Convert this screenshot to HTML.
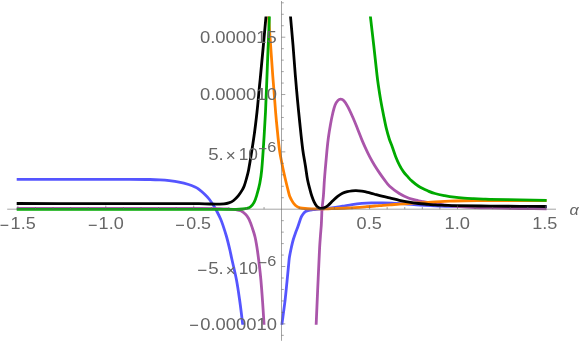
<!DOCTYPE html>
<html><head><meta charset="utf-8"><title>plot</title>
<style>html,body{margin:0;padding:0;background:#fff;}svg{display:block;}text{font-family:"Liberation Sans",sans-serif;fill:#666666;}</style></head><body>
<svg width="581" height="342" viewBox="0 0 581 342">
<rect width="581" height="342" fill="#ffffff"/>
<defs><clipPath id="c"><rect x="0" y="16.5" width="581" height="308.3"/></clipPath></defs>
<g clip-path="url(#c)" fill="none" stroke-width="2.8" stroke-linejoin="round">
<path d="M16.70 179.30 C31.13 179.30 45.57 179.30 60.00 179.30 C73.33 179.30 86.67 179.30 100.00 179.30 C110.00 179.30 120.00 179.26 130.00 179.30 C136.67 179.33 143.33 179.37 150.00 179.50 C153.33 179.57 156.67 179.69 160.00 179.90 C163.10 180.09 166.21 180.34 169.30 180.70 C172.54 181.08 175.80 181.47 179.00 182.10 C182.23 182.74 185.45 183.54 188.60 184.50 C190.79 185.17 192.92 186.06 195.00 187.00 C196.15 187.52 197.29 188.14 198.30 188.90 C200.50 190.54 202.65 192.31 204.65 194.20 C206.39 195.84 208.04 197.61 209.50 199.50 C211.26 201.79 212.78 204.28 214.30 206.75 C215.35 208.45 216.29 210.22 217.20 212.00 C218.39 214.31 219.57 216.62 220.60 219.00 C221.47 220.99 222.21 223.04 222.90 225.10 C224.17 228.87 225.42 232.67 226.50 236.50 C227.76 240.97 228.83 245.49 229.90 250.00 C230.53 252.65 231.01 255.34 231.60 258.00 C233.21 265.34 235.11 272.62 236.50 280.00 C237.87 287.29 238.87 294.65 239.90 302.00 C240.91 309.22 241.74 316.46 242.60 323.70 C242.97 326.80 243.27 329.90 243.60 333.00" stroke="#5555ff"/>
<path d="M281.00 333.00 C281.33 329.93 281.64 326.86 282.00 323.80 C282.24 321.76 282.53 319.73 282.80 317.70 C283.57 311.83 284.41 305.98 285.10 300.10 C285.78 294.28 286.32 288.44 286.90 282.60 C287.48 276.74 288.03 270.87 288.60 265.00 C288.83 262.67 289.00 260.32 289.30 258.00 C289.47 256.66 289.74 255.33 290.00 254.00 C290.44 251.73 290.89 249.46 291.40 247.20 C291.99 244.62 292.56 242.04 293.30 239.50 C294.01 237.04 294.89 234.62 295.75 232.20 C296.25 230.78 296.88 229.41 297.40 228.00 C297.89 226.68 298.33 225.33 298.80 224.00 C299.60 221.73 300.21 219.38 301.20 217.20 C301.81 215.84 302.67 214.56 303.60 213.40 C304.27 212.57 305.09 211.78 306.00 211.25 C306.86 210.75 307.91 210.53 308.90 210.30 C310.16 210.01 311.46 209.87 312.75 209.70 C314.00 209.54 315.25 209.40 316.50 209.30 C318.26 209.16 320.04 209.16 321.80 209.00 C325.20 208.69 328.61 208.35 332.00 207.90 C335.51 207.43 339.00 206.82 342.50 206.25 C345.70 205.72 348.89 205.07 352.10 204.60 C355.32 204.13 358.56 203.74 361.80 203.45 C364.99 203.17 368.20 203.00 371.40 202.90 C375.26 202.78 379.13 202.76 383.00 202.80 C386.00 202.83 389.00 202.95 392.00 203.10 C396.34 203.32 400.67 203.61 405.00 203.90 C410.00 204.24 415.00 204.70 420.00 205.00 C426.66 205.40 433.33 205.75 440.00 206.00 C445.00 206.19 450.00 206.25 455.00 206.30 C470.00 206.45 485.00 206.52 500.00 206.60 C515.53 206.68 531.07 206.73 546.60 206.80" stroke="#5555ff"/>
<path d="M16.70 208.40 C44.47 208.40 72.23 208.40 100.00 208.40 C133.33 208.40 166.67 208.34 200.00 208.40 C206.67 208.41 213.34 208.46 220.00 208.60 C222.67 208.66 225.34 208.82 228.00 209.00 C230.67 209.18 233.36 209.33 236.00 209.70 C237.62 209.93 239.35 210.10 240.80 210.80 C242.52 211.63 244.10 212.96 245.50 214.30 C246.60 215.36 247.52 216.68 248.30 218.00 C249.15 219.44 249.77 221.04 250.40 222.60 C251.07 224.26 251.62 225.96 252.20 227.65 C252.75 229.26 253.31 230.87 253.80 232.50 C254.28 234.09 254.73 235.68 255.10 237.30 C255.60 239.52 256.01 241.76 256.40 244.00 C256.81 246.33 257.18 248.66 257.50 251.00 C258.14 255.66 258.75 260.33 259.30 265.00 C259.89 269.99 260.45 274.99 260.90 280.00 C261.55 287.33 262.08 294.66 262.60 302.00 C263.11 309.23 263.53 316.47 264.00 323.70 C264.20 326.80 264.40 329.90 264.60 333.00" stroke="#aa55aa"/>
<path d="M315.80 333.00 C315.93 329.93 316.07 326.87 316.20 323.80 C316.67 312.97 317.12 302.13 317.60 291.30 C317.99 282.53 318.40 273.77 318.80 265.00 C319.06 259.33 319.28 253.66 319.60 248.00 C319.85 243.66 320.18 239.33 320.50 235.00 C320.75 231.67 321.09 228.34 321.30 225.00 C321.49 222.00 321.57 219.00 321.70 216.00 C321.80 213.67 321.80 211.33 322.00 209.00 C322.37 204.66 323.04 200.34 323.40 196.00 C323.84 190.68 324.03 185.33 324.40 180.00 C324.63 176.66 324.91 173.33 325.20 170.00 C325.78 163.33 326.34 156.66 327.00 150.00 C327.41 145.83 327.84 141.65 328.40 137.50 C328.97 133.29 329.65 129.09 330.40 124.90 C331.08 121.09 331.81 117.27 332.70 113.50 C333.38 110.60 334.00 107.63 335.10 104.90 C335.76 103.26 336.81 101.64 338.00 100.40 C338.64 99.74 339.74 99.14 340.60 99.20 C341.70 99.27 343.08 99.95 343.90 100.80 C345.51 102.48 346.76 104.69 347.90 106.80 C349.73 110.19 351.25 113.76 352.80 117.30 C354.45 121.06 355.96 124.89 357.50 128.70 C359.03 132.49 360.44 136.32 362.00 140.10 C363.04 142.62 364.15 145.12 365.30 147.60 C366.70 150.64 368.11 153.68 369.65 156.65 C371.17 159.58 372.79 162.47 374.50 165.30 C376.01 167.79 377.65 170.20 379.30 172.60 C380.85 174.87 382.44 177.11 384.10 179.30 C385.89 181.68 387.49 184.28 389.65 186.30 C392.56 189.02 395.90 191.39 399.30 193.50 C402.35 195.39 405.64 197.04 409.00 198.30 C412.07 199.46 415.39 199.99 418.60 200.75 C420.19 201.12 421.80 201.40 423.40 201.70 C425.93 202.18 428.46 202.67 431.00 203.10 C433.99 203.60 436.99 204.09 440.00 204.50 C443.33 204.96 446.66 205.33 450.00 205.70 C453.33 206.07 456.66 206.46 460.00 206.70 C464.99 207.06 470.00 207.29 475.00 207.50 C480.00 207.71 485.00 207.84 490.00 207.95 C500.00 208.17 510.00 208.34 520.00 208.50 C528.87 208.64 537.73 208.73 546.60 208.85" stroke="#aa55aa"/>
<path d="M268.00 0.00 C268.20 5.50 268.28 11.01 268.60 16.50 C269.15 26.01 269.93 35.50 270.60 45.00 C271.30 55.00 271.97 65.00 272.70 75.00 C272.97 78.67 273.31 82.33 273.60 86.00 C274.28 94.67 274.89 103.34 275.60 112.00 C275.96 116.34 276.36 120.67 276.80 125.00 C277.66 133.34 278.36 141.70 279.50 150.00 C280.20 155.10 281.29 160.15 282.30 165.20 C283.19 169.65 284.19 174.08 285.20 178.50 C285.89 181.51 286.65 184.50 287.40 187.50 C288.11 190.34 288.69 193.23 289.60 196.00 C290.05 197.37 290.80 198.64 291.50 199.90 C292.23 201.21 292.96 202.55 293.90 203.70 C294.73 204.72 295.71 205.69 296.80 206.40 C297.81 207.06 299.02 207.50 300.20 207.80 C301.75 208.20 303.39 208.36 305.00 208.50 C307.26 208.69 309.53 208.74 311.80 208.80 C314.97 208.89 318.13 208.95 321.30 208.95 C323.53 208.95 325.77 208.88 328.00 208.80 C334.43 208.56 340.87 208.35 347.30 208.00 C353.74 207.65 360.17 207.17 366.60 206.70 C369.84 206.47 373.07 206.18 376.30 205.90 C378.53 205.71 380.76 205.47 383.00 205.30 C385.21 205.13 387.44 205.06 389.65 204.90 C392.87 204.66 396.08 204.33 399.30 204.10 C402.53 203.87 405.77 203.70 409.00 203.50 C412.20 203.30 415.40 203.10 418.60 202.90 C421.83 202.70 425.07 202.50 428.30 202.30 C430.53 202.16 432.77 202.02 435.00 201.90 C438.22 201.72 441.43 201.55 444.65 201.40 C447.87 201.25 451.08 201.11 454.30 201.00 C457.53 200.89 460.77 200.80 464.00 200.75 C472.67 200.63 481.33 200.52 490.00 200.50 C508.87 200.47 527.73 200.57 546.60 200.60" stroke="#ff8000"/>
<path d="M16.70 209.30 C44.47 209.30 72.23 209.30 100.00 209.30 C133.33 209.30 166.67 209.30 200.00 209.30 C212.00 209.30 224.00 209.38 236.00 209.30 C238.24 209.28 240.47 209.18 242.70 209.00 C244.14 208.88 245.61 208.77 247.00 208.40 C248.15 208.10 249.42 207.76 250.30 207.00 C251.79 205.72 253.16 204.05 254.10 202.30 C255.36 199.95 256.13 197.28 256.90 194.70 C258.03 190.95 259.05 187.14 259.80 183.30 C260.65 178.91 261.29 174.46 261.70 170.00 C262.73 158.79 263.36 147.54 264.10 136.30 C264.63 128.20 265.10 120.10 265.50 112.00 C265.93 103.34 266.25 94.67 266.60 86.00 C266.95 77.33 267.25 68.67 267.60 60.00 C268.18 45.50 268.82 31.00 269.40 16.50 C269.62 11.00 269.80 5.50 270.00 0.00" stroke="#00aa00"/>
<path d="M368.70 0.00 C369.27 5.50 369.79 11.00 370.40 16.50 C371.46 26.00 372.63 35.50 373.70 45.00 C374.83 55.00 375.85 65.01 377.00 75.00 C377.38 78.34 377.81 81.67 378.30 85.00 C379.05 90.07 379.82 95.15 380.70 100.20 C381.59 105.28 382.59 110.34 383.60 115.40 C384.49 119.84 385.34 124.30 386.40 128.70 C387.24 132.17 388.21 135.61 389.30 139.00 C390.17 141.71 391.33 144.32 392.30 147.00 C393.46 150.21 394.44 153.49 395.70 156.65 C396.87 159.59 398.15 162.49 399.60 165.30 C400.72 167.48 401.97 169.62 403.40 171.60 C404.87 173.65 406.64 175.49 408.30 177.40 C409.07 178.29 409.81 179.23 410.70 180.00 C413.24 182.20 415.77 184.51 418.60 186.30 C421.63 188.21 425.00 189.65 428.30 191.10 C430.47 192.05 432.72 192.87 435.00 193.50 C438.17 194.37 441.42 194.98 444.65 195.60 C447.85 196.21 451.07 196.77 454.30 197.20 C457.52 197.62 460.76 197.90 464.00 198.15 C467.19 198.40 470.40 198.54 473.60 198.70 C476.83 198.86 480.07 198.96 483.30 199.10 C485.53 199.20 487.77 199.35 490.00 199.40 C500.00 199.62 510.00 199.72 520.00 199.90 C528.87 200.06 537.73 200.23 546.60 200.40" stroke="#00aa00"/>
<path d="M16.70 203.50 C44.47 203.52 72.23 203.53 100.00 203.55 C116.67 203.56 133.33 203.59 150.00 203.60 C160.00 203.61 170.00 203.58 180.00 203.60 C186.33 203.61 192.67 203.62 199.00 203.70 C202.67 203.75 206.33 203.93 210.00 204.00 C212.67 204.05 215.33 204.07 218.00 204.05 C220.00 204.04 222.02 204.11 224.00 203.90 C225.62 203.73 227.27 203.44 228.80 202.90 C230.47 202.31 232.19 201.56 233.60 200.50 C235.39 199.15 236.96 197.40 238.40 195.65 C239.86 193.87 241.11 191.88 242.30 189.90 C243.04 188.66 243.69 187.35 244.20 186.00 C244.99 183.88 245.60 181.69 246.20 179.50 C247.07 176.35 248.02 173.21 248.60 170.00 C250.62 158.81 252.37 147.56 254.00 136.30 C255.17 128.22 256.11 120.11 257.00 112.00 C257.95 103.35 258.66 94.67 259.50 86.00 C259.86 82.33 260.25 78.67 260.60 75.00 C261.55 65.00 262.48 55.00 263.40 45.00 C264.28 35.50 265.13 26.00 266.00 16.50 C266.50 11.00 267.00 5.50 267.50 0.00" stroke="#000000"/>
<path d="M289.20 0.00 C289.63 5.50 290.04 11.00 290.50 16.50 C291.30 26.00 292.22 35.50 293.00 45.00 C293.82 55.00 294.48 65.00 295.30 75.00 C295.98 83.34 296.72 91.67 297.50 100.00 C298.22 107.67 298.99 115.34 299.80 123.00 C300.75 132.00 301.63 141.02 302.80 150.00 C303.49 155.29 304.56 160.53 305.40 165.80 C306.16 170.53 306.70 175.30 307.60 180.00 C308.23 183.27 309.15 186.48 310.00 189.70 C310.55 191.81 311.10 193.93 311.80 196.00 C312.47 197.97 313.19 199.94 314.10 201.80 C314.89 203.41 315.77 205.05 316.90 206.40 C317.47 207.09 318.38 207.52 319.20 207.90 C319.81 208.19 320.53 208.40 321.20 208.40 C322.16 208.40 323.21 208.28 324.10 207.90 C325.48 207.31 326.83 206.46 328.00 205.50 C329.73 204.08 331.16 202.29 332.80 200.75 C334.38 199.26 335.93 197.72 337.65 196.40 C339.17 195.24 340.79 194.15 342.50 193.30 C344.01 192.55 345.66 192.03 347.30 191.60 C348.86 191.19 350.49 190.98 352.10 190.80 C353.39 190.65 354.70 190.56 356.00 190.60 C357.94 190.66 359.88 190.83 361.80 191.10 C363.42 191.33 365.01 191.73 366.60 192.10 C368.21 192.47 369.81 192.87 371.40 193.30 C373.04 193.74 374.66 194.26 376.30 194.70 C378.53 195.29 380.76 195.86 383.00 196.40 C385.21 196.93 387.44 197.37 389.65 197.90 C392.87 198.67 396.07 199.58 399.30 200.30 C402.52 201.01 405.75 201.66 409.00 202.20 C412.18 202.73 415.39 203.15 418.60 203.50 C421.82 203.85 425.07 204.02 428.30 204.30 C430.53 204.49 432.76 204.76 435.00 204.90 C438.21 205.10 441.43 205.17 444.65 205.30 C447.87 205.43 451.08 205.64 454.30 205.70 C466.20 205.91 478.10 205.98 490.00 206.10 C500.00 206.20 510.00 206.28 520.00 206.35 C528.87 206.41 537.73 206.45 546.60 206.50" stroke="#000000"/>
</g>
<path d="M7.2 209.20 H556 M281.50 1 V340.8 M17.88 209.20 v-3.6 M35.46 209.20 v-2.2 M53.05 209.20 v-2.2 M70.63 209.20 v-2.2 M88.21 209.20 v-2.2 M105.80 209.20 v-3.6 M123.38 209.20 v-2.2 M140.97 209.20 v-2.2 M158.55 209.20 v-2.2 M176.14 209.20 v-2.2 M193.72 209.20 v-3.6 M211.31 209.20 v-2.2 M228.89 209.20 v-2.2 M246.48 209.20 v-2.2 M264.06 209.20 v-2.2 M299.23 209.20 v-2.2 M316.82 209.20 v-2.2 M334.40 209.20 v-2.2 M351.99 209.20 v-2.2 M369.57 209.20 v-3.6 M387.16 209.20 v-2.2 M404.75 209.20 v-2.2 M422.33 209.20 v-2.2 M439.91 209.20 v-2.2 M457.50 209.20 v-3.6 M475.08 209.20 v-2.2 M492.67 209.20 v-2.2 M510.25 209.20 v-2.2 M527.84 209.20 v-2.2 M545.42 209.20 v-3.6 M281.50 335.33 h2.3 M281.50 323.86 h3.8 M281.50 312.39 h2.3 M281.50 300.93 h2.3 M281.50 289.46 h2.3 M281.50 278.00 h2.3 M281.50 266.53 h3.8 M281.50 255.06 h2.3 M281.50 243.60 h2.3 M281.50 232.13 h2.3 M281.50 220.67 h2.3 M281.50 197.73 h2.3 M281.50 186.27 h2.3 M281.50 174.80 h2.3 M281.50 163.34 h2.3 M281.50 151.87 h3.8 M281.50 140.40 h2.3 M281.50 128.94 h2.3 M281.50 117.47 h2.3 M281.50 106.01 h2.3 M281.50 94.54 h3.8 M281.50 83.07 h2.3 M281.50 71.61 h2.3 M281.50 60.14 h2.3 M281.50 48.68 h2.3 M281.50 37.21 h3.8 M281.50 25.74 h2.3 M281.50 14.28 h2.3 M281.50 2.81 h2.3" stroke="#666666" stroke-width="0.60" fill="none"/>
<g style="filter:grayscale(1)">
<text x="-0.13" y="230.90" font-size="17.30" textLength="9.30" lengthAdjust="spacingAndGlyphs">−</text>
<text x="10.63" y="229.00" font-size="17.30" textLength="25.03" lengthAdjust="spacingAndGlyphs">1.5</text>
<text x="88.00" y="230.90" font-size="17.30" textLength="9.50" lengthAdjust="spacingAndGlyphs">−</text>
<text x="98.63" y="229.00" font-size="17.30" textLength="25.08" lengthAdjust="spacingAndGlyphs">1.0</text>
<text x="175.14" y="230.90" font-size="17.30" textLength="9.56" lengthAdjust="spacingAndGlyphs">−</text>
<text x="186.20" y="229.00" font-size="17.30" textLength="24.85" lengthAdjust="spacingAndGlyphs">0.5</text>
<text x="356.59" y="229.00" font-size="17.30" textLength="25.17" lengthAdjust="spacingAndGlyphs">0.5</text>
<text x="444.50" y="229.00" font-size="17.30" textLength="25.52" lengthAdjust="spacingAndGlyphs">1.0</text>
<text x="532.22" y="229.00" font-size="17.30" textLength="25.14" lengthAdjust="spacingAndGlyphs">1.5</text>
<text x="199.98" y="43.10" font-size="17.30" textLength="76.89" lengthAdjust="spacingAndGlyphs">0.000015</text>
<text x="199.98" y="100.30" font-size="17.30" textLength="76.94" lengthAdjust="spacingAndGlyphs">0.000010</text>
<text x="189.29" y="330.80" font-size="17.30" textLength="9.62" lengthAdjust="spacingAndGlyphs">−</text>
<text x="200.28" y="329.50" font-size="17.30" textLength="76.64" lengthAdjust="spacingAndGlyphs">0.000010</text>
<text x="208.15" y="159.80" font-size="17.30" textLength="15.55" lengthAdjust="spacingAndGlyphs">5.</text>
<text x="225.72" y="161.30" font-size="17.30" textLength="9.96" lengthAdjust="spacingAndGlyphs">×</text>
<text x="238.68" y="159.80" font-size="17.30" textLength="19.30" lengthAdjust="spacingAndGlyphs">10</text>
<text x="258.25" y="153.60" font-size="15.40" textLength="8.89" lengthAdjust="spacingAndGlyphs">−</text>
<text x="267.37" y="151.50" font-size="15.40" textLength="9.04" lengthAdjust="spacingAndGlyphs">6</text>
<text x="197.26" y="275.50" font-size="17.30" textLength="9.98" lengthAdjust="spacingAndGlyphs">−</text>
<text x="208.15" y="274.20" font-size="17.30" textLength="15.55" lengthAdjust="spacingAndGlyphs">5.</text>
<text x="225.72" y="275.70" font-size="17.30" textLength="9.96" lengthAdjust="spacingAndGlyphs">×</text>
<text x="238.68" y="274.20" font-size="17.30" textLength="19.30" lengthAdjust="spacingAndGlyphs">10</text>
<text x="258.25" y="268.00" font-size="15.40" textLength="8.89" lengthAdjust="spacingAndGlyphs">−</text>
<text x="267.37" y="265.90" font-size="15.40" textLength="9.04" lengthAdjust="spacingAndGlyphs">6</text>
<text x="569.64" y="214.55" font-size="15.50" textLength="9.27" lengthAdjust="spacingAndGlyphs" font-style="italic">α</text>
</g>
</svg></body></html>
